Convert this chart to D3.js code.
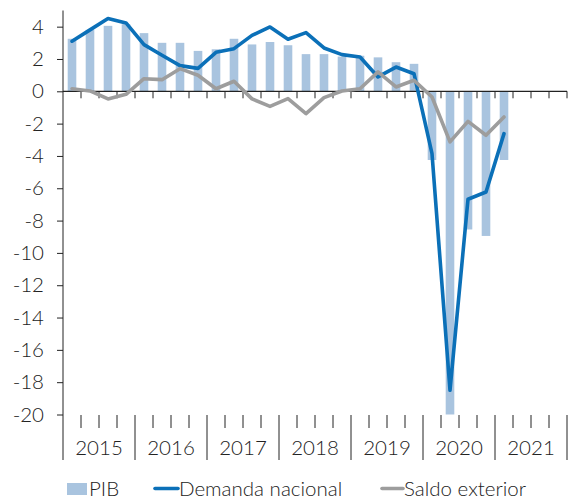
<!DOCTYPE html>
<html>
<head>
<meta charset="utf-8">
<script src="https://cdn.jsdelivr.net/npm/d3@7"></script>
<style>
  body { margin: 0; background: #fff; }
  svg { display: block; font-family: Lato, sans-serif; }
  text { font-weight: 300; }
</style>
</head>
<body>
<svg width="571" height="504"></svg>
<script>
// quarterly data, 2015 Q1 .. 2021 Q1
const years = [2015, 2016, 2017, 2018, 2019, 2020, 2021]
const pib = [3.25, 3.8, 4.05, 4.15, 3.6, 3.0, 3.0, 2.5, 2.6, 3.25, 2.9, 3.05,
  2.85, 2.3, 2.3, 2.15, 2.2, 2.1, 1.8, 1.7, -4.25, -20.0, -8.55, -8.95, -4.25]
const demanda = [3.1, 3.8, 4.5, 4.23, 2.89, 2.23, 1.59, 1.42, 2.41, 2.64, 3.46, 3.98,
  3.22, 3.63, 2.68, 2.27, 2.12, 0.89, 1.5, 1.09, -3.86, -18.5, -6.68, -6.23, -2.62]
const saldo = [0.16, 0.02, -0.47, -0.19, 0.78, 0.72, 1.4, 0.99, 0.16, 0.62, -0.47, -0.93,
  -0.45, -1.38, -0.39, 0.02, 0.16, 1.2, 0.27, 0.68, -0.35, -3.13, -1.86, -2.72, -1.59]
const yTicks = [4, 2, 0, -2, -4, -6, -8, -10, -12, -14, -16, -18, -20]

const left = 63, right = 567
const bottomTick = 415
const fontSize = 20.5
const textColor = "#222"

const svg = d3.select("svg")
const nQ = years.length * 4

const x = d3.scaleLinear().domain([0, nQ]).range([left, right])
const y = d3.scaleLinear().domain([-20, 5]).range([414.5, 10.5])

// bars
svg.append("g")
  .selectAll("rect")
  .data(pib)
  .enter()
  .append("rect")
  .attr("x", (d, i) => x(i + 0.5) - 4.3)
  .attr("width", 8.6)
  .attr("y", d => y(Math.max(0, d)))
  .attr("height", d => Math.abs(y(d) - y(0)))
  .attr("fill", "#a9c4df")

// y axis
const yAxis = svg.append("g")
  .attr("transform", `translate(${left},0)`)
  .call(d3.axisLeft(y).tickValues(yTicks).tickSize(6).tickSizeOuter(0).tickPadding(13)
    .tickFormat(d => String(d)))
yAxis.select(".domain").remove()
yAxis.selectAll("line").attr("stroke", "#222")
yAxis.selectAll("text").attr("font-size", fontSize).attr("fill", textColor)
  .attr("font-family", "Lato, sans-serif")

svg.append("line")
  .attr("x1", left).attr("x2", left)
  .attr("y1", 10.5).attr("y2", 460)
  .attr("stroke", "#222").attr("stroke-width", 1)

// zero line with quarter ticks
svg.append("line")
  .attr("x1", left).attr("x2", right)
  .attr("y1", y(0)).attr("y2", y(0))
  .attr("stroke", "#222").attr("stroke-width", 1.2)
svg.append("g")
  .selectAll("line")
  .data(d3.range(1, nQ + 1))
  .enter()
  .append("line")
  .attr("x1", d => x(d)).attr("x2", d => x(d))
  .attr("y1", y(0)).attr("y2", y(0) + 7)
  .attr("stroke", "#222")

// bottom category axis
const quarterTicks = d3.range(1, nQ).filter(d => d % 4 !== 0)
svg.append("g")
  .selectAll("line")
  .data(quarterTicks)
  .enter()
  .append("line")
  .attr("x1", d => x(d)).attr("x2", d => x(d))
  .attr("y1", bottomTick).attr("y2", bottomTick + 13)
  .attr("stroke", "#222")
svg.append("g")
  .selectAll("line")
  .data(d3.range(4, nQ + 1, 4))
  .enter()
  .append("line")
  .attr("x1", d => x(d)).attr("x2", d => x(d))
  .attr("y1", bottomTick).attr("y2", 460)
  .attr("stroke", "#222")
svg.append("g")
  .selectAll("text")
  .data(years)
  .enter()
  .append("text")
  .attr("x", (d, i) => x(i * 4 + 2))
  .attr("y", 455)
  .attr("text-anchor", "middle")
  .attr("font-size", fontSize)
  .attr("fill", textColor)
  .text(d => d)

// lines
const line = d3.line()
  .x((d, i) => x(i + 0.5))
  .y(d => y(d))

svg.append("path")
  .datum(demanda)
  .attr("d", line)
  .attr("fill", "none")
  .attr("stroke", "#0b70b8")
  .attr("stroke-width", 3.6)
  .attr("stroke-linejoin", "round")
  .attr("stroke-linecap", "round")

svg.append("path")
  .datum(saldo)
  .attr("d", line)
  .attr("fill", "none")
  .attr("stroke", "#9d9d9d")
  .attr("stroke-width", 3.6)
  .attr("stroke-linejoin", "round")
  .attr("stroke-linecap", "round")

// legend
let legend = svg.append("g")
legend.append("rect")
  .attr("x", 67).attr("y", 483)
  .attr("width", 20).attr("height", 12)
  .attr("fill", "#a9c4df")
legend.append("text")
  .attr("x", 89).attr("y", 495.5)
  .attr("font-size", fontSize).attr("fill", textColor)
  .text("PIB")
legend.append("line")
  .attr("x1", 155).attr("x2", 178)
  .attr("y1", 488.5).attr("y2", 488.5)
  .attr("stroke", "#0b70b8").attr("stroke-width", 3.6).attr("stroke-linecap", "round")
legend.append("text")
  .attr("x", 179).attr("y", 495.5)
  .attr("font-size", fontSize).attr("fill", textColor)
  .text("Demanda nacional")
legend.append("line")
  .attr("x1", 382).attr("x2", 403)
  .attr("y1", 488.5).attr("y2", 488.5)
  .attr("stroke", "#9d9d9d").attr("stroke-width", 3.6).attr("stroke-linecap", "round")
legend.append("text")
  .attr("x", 404).attr("y", 495.5)
  .attr("font-size", fontSize).attr("fill", textColor)
  .text("Saldo exterior")
</script>
</body>
</html>
